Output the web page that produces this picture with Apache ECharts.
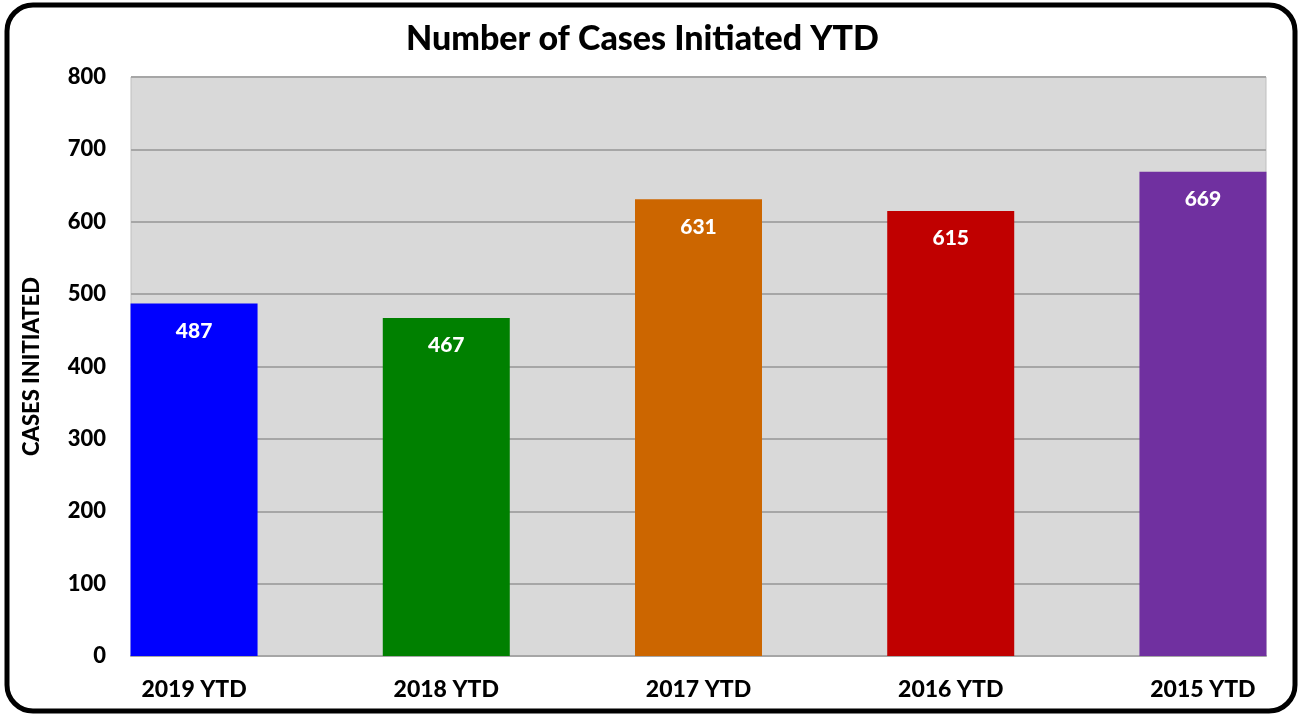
<!DOCTYPE html>
<html>
<head>
<meta charset="utf-8">
<script src="https://cdn.jsdelivr.net/npm/echarts@6/dist/echarts.min.js"></script>
<style>
  html, body { margin: 0; padding: 0; background: #ffffff; }
  #chart { width: 1301px; height: 714px; }
</style>
</head>
<body>
<div id="chart"></div>
<script>
// chart data
const categories = ['2019 YTD', '2018 YTD', '2017 YTD', '2016 YTD', '2015 YTD'];
const casesInitiated = [487, 467, 631, 615, 669];
const barColors = ['#0000ff', '#008000', '#cc6600', '#c00000', '#7030a0'];
const yTicks = [0, 100, 200, 300, 400, 500, 600, 700, 800];

const font = 'Lato, "Noto Sans", sans-serif';
const chart = echarts.init(document.getElementById('chart'));

// bars sit at x = 0..4 on a value axis so the outer bars touch the plot edges
const barData = casesInitiated.map((v, i) => ({
  value: [i, v],
  itemStyle: { color: barColors[i] }
}));

chart.setOption({
  backgroundColor: '#ffffff',
  animation: false,
  title: {
    text: 'Number of Cases Initiated YTD',
    left: 401,
    top: 17,
    textStyle: { fontFamily: font, fontSize: 34, fontWeight: 900, color: '#000' }
  },
  graphic: [{
    type: 'rect',
    shape: { x: 7, y: 5, width: 1288, height: 706, r: 26 },
    style: { fill: 'none', stroke: '#000', lineWidth: 5 },
    z: 100
  }],
  grid: {
    left: 131, right: 35, top: 77, bottom: 58,
    show: true,
    backgroundColor: '#d9d9d9',
    borderColor: '#bfbfbf',
    borderWidth: 1
  },
  xAxis: {
    type: 'value',
    min: -0.25,
    max: 4.25,
    axisLine: { show: true, onZero: false, lineStyle: { color: '#a6a6a6', width: 2 } },
    axisTick: { show: false },
    splitLine: { show: false },
    axisLabel: {
      customValues: categories.map((c, i) => i),
      formatter: v => categories[Math.round(v)] || '',
      margin: 22,
      color: '#000',
      fontFamily: font,
      fontSize: 23,
      fontWeight: 900
    }
  },
  yAxis: {
    type: 'value',
    min: yTicks[0],
    max: yTicks[yTicks.length - 1],
    interval: 100,
    name: 'CASES INITIATED',
    nameLocation: 'middle',
    nameGap: 88,
    nameRotate: 90,
    nameTextStyle: { fontFamily: font, fontSize: 22, fontWeight: 900, color: '#000' },
    axisLine: { show: false },
    axisTick: { show: false },
    splitLine: { lineStyle: { color: '#a6a6a6', width: 2 } },
    axisLabel: {
      margin: 25,
      color: '#000',
      fontFamily: font,
      fontSize: 22,
      fontWeight: 900
    }
  },
  series: [{
    type: 'bar',
    data: barData,
    barWidth: 127,
    label: {
      show: true,
      position: 'insideTop',
      distance: 17,
      formatter: p => p.value[1],
      color: '#ffffff',
      fontFamily: font,
      fontSize: 21,
      fontWeight: 900
    }
  }]
});
</script>
</body>
</html>
